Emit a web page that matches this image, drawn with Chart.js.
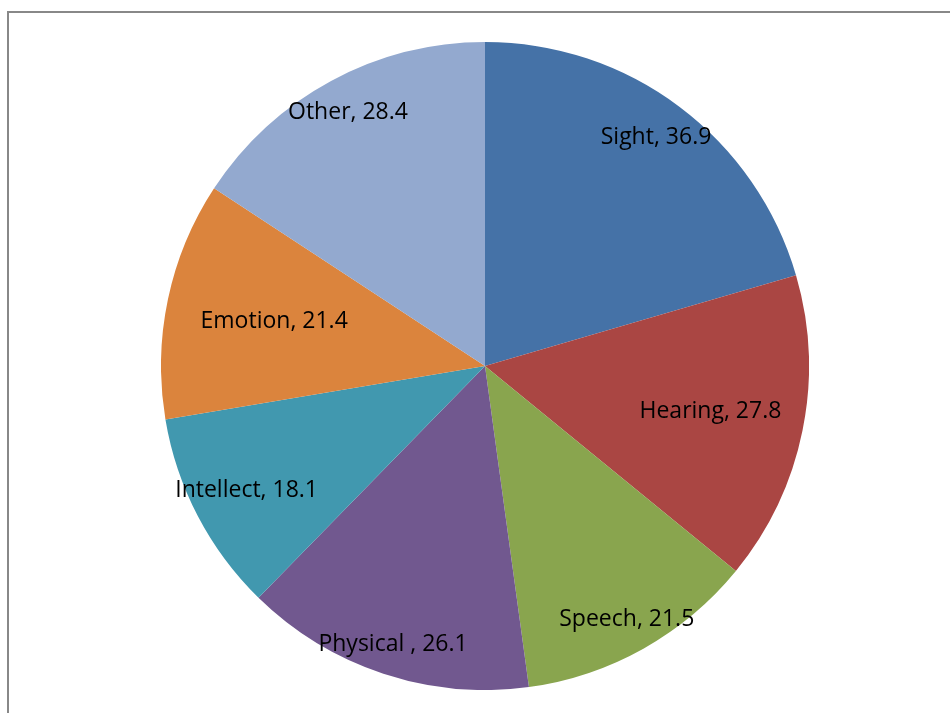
<!DOCTYPE html>
<html>
<head>
<meta charset="utf-8">
<script src="https://cdn.jsdelivr.net/npm/chart.js@4"></script>
<style>
    html, body { margin: 0; padding: 0; background: #fff; overflow: hidden; }
    #frame {
        position: absolute; left: 7px; top: 11px;
        width: 1000px; height: 800px;
        border: 2px solid #888888;
    }
    #pie-wrap {
        position: absolute; left: 161px; top: 42px;
        width: 648px; height: 648px;
    }
</style>
</head>
<body>
<div id="frame"></div>
<div id="pie-wrap"><canvas id="disability-pie"></canvas></div>
<script>
const categories = ["Sight", "Hearing", "Speech", "Physical ", "Intellect", "Emotion", "Other"];
const values = [36.9, 27.8, 21.5, 26.1, 18.1, 21.4, 28.4];
const colors = ["#4572A7", "#AA4643", "#89A54E", "#71588F", "#4198AF", "#DB843D", "#93A9CF"];

// how far out (share of radius) each label sits
const labelDist = [0.88, 0.71, 0.895, 0.905, 0.83, 0.665, 0.89];

const sliceLabels = {
    id: "sliceLabels",
    afterDatasetsDraw(chart) {
        const ctx = chart.ctx;
        const meta = chart.getDatasetMeta(0);
        ctx.save();
        ctx.font = "23px 'Open Sans'";
        ctx.fillStyle = "#000";
        ctx.textAlign = "center";
        ctx.textBaseline = "middle";
        meta.data.forEach((arc, i) => {
            const mid = (arc.startAngle + arc.endAngle) / 2;
            const r = arc.outerRadius * labelDist[i];
            const x = arc.x + Math.cos(mid) * r;
            const y = arc.y + Math.sin(mid) * r;
            ctx.fillText(`${categories[i]}, ${values[i]}`, x, y);
        });
        ctx.restore();
    }
};

new Chart(document.getElementById("disability-pie"), {
    type: "pie",
    data: {
        labels: categories,
        datasets: [{
            data: values,
            backgroundColor: colors,
            borderWidth: 0,
            hoverOffset: 0
        }]
    },
    options: {
        responsive: true,
        maintainAspectRatio: false,
        animation: false,
        layout: { padding: 0 },
        plugins: {
            legend: { display: false },
            tooltip: { enabled: false }
        }
    },
    plugins: [sliceLabels]
});
</script>
</body>
</html>
